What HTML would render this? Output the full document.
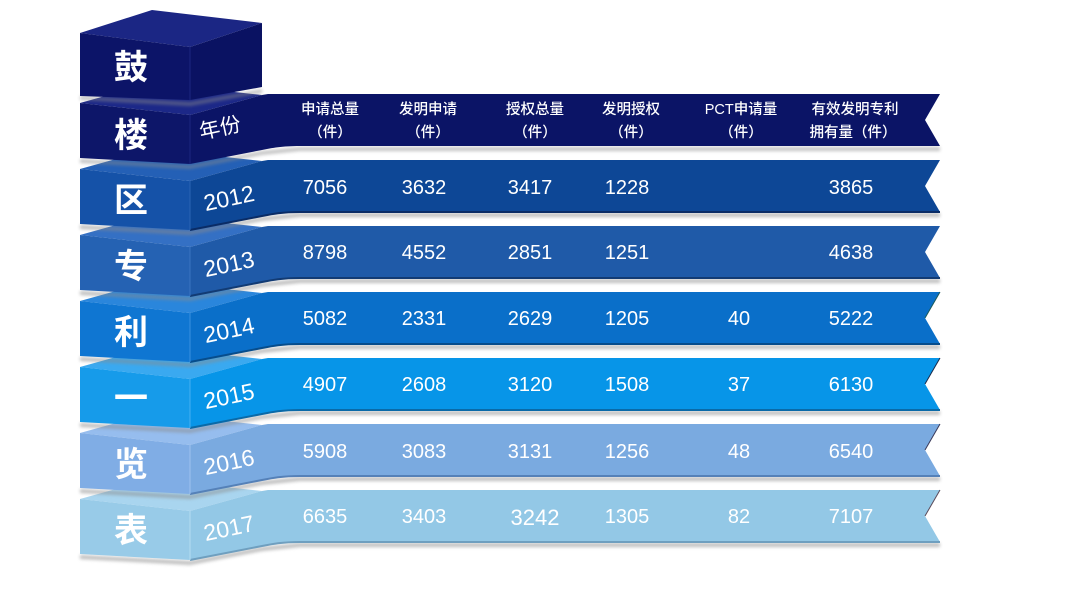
<!DOCTYPE html>
<html>
<head>
<meta charset="utf-8">
<style>
  html,body{margin:0;padding:0;background:#ffffff;}
  body{width:1080px;height:594px;overflow:hidden;}
  svg{display:block;}
  .hd{font-family:"Liberation Sans","Noto Sans CJK SC",sans-serif;font-size:14.5px;font-weight:500;fill:#ffffff;}
  .num{font-family:"Liberation Sans","Noto Sans CJK SC",sans-serif;font-size:20px;fill:#ffffff;}
  .yr{font-family:"Liberation Sans","Noto Sans CJK SC",sans-serif;font-size:23px;fill:#ffffff;}
  .big{font-family:"Liberation Sans","Noto Sans CJK SC",sans-serif;font-size:34px;font-weight:700;fill:#ffffff;}
</style>
</head>
<body>
<svg width="1080" height="594" viewBox="0 0 1080 594" xmlns="http://www.w3.org/2000/svg">
  <defs>
    <filter id="blur" x="-5%" y="-20%" width="110%" height="140%">
      <feGaussianBlur stdDeviation="1.6"/>
    </filter>
    <path id="rib" d="M190,49 L262,29 L268,28 L940,28 L925,54 L940,80 L300,80 C282,80 272,82 262,84 L190,98 Z"/>
    <polygon id="front" points="80,37 190,49 190,98 80,92"/>
    <polygon id="top" points="80,37 152,17 262,29 190,49"/>
    <polygon id="fshadow" points="80,92 190,98 262,84 300,80 940,80 940,84 300,84 262,88 190,102 80,96"/>
  </defs>

  <!-- Tier 7 : 2017 -->
  <g transform="translate(0,462)">
    <use href="#fshadow" fill="#8a8a8a" opacity="0.55" filter="url(#blur)" transform="translate(0,1)"/>
    <use href="#top" fill="#a9d5ef"/>
    <use href="#rib" fill="#93c8e6"/>
    <path d="M190,98 L262,84 C272,82 282,80 300,80 L940,80" fill="none" stroke="#6f9fbf" stroke-width="2"/>
    <use href="#front" fill="#98cbe8"/>
    <line x1="190" y1="49" x2="190" y2="98" stroke="#b5dcf1" stroke-width="1"/>
    <path d="M940,28 L925,54" stroke="#5a4a5a" stroke-width="1" fill="none"/>
    <text class="big" x="131" y="80" text-anchor="middle">表</text>
    <text class="yr" x="229" y="74" text-anchor="middle" transform="rotate(-12,229,66)">2017</text>
    <text class="num" x="325" y="61" text-anchor="middle">6635</text>
    <text class="num" x="424" y="61" text-anchor="middle">3403</text>
    <text class="num" x="535" y="63" text-anchor="middle" style="font-size:22px">3242</text>
    <text class="num" x="627" y="61" text-anchor="middle">1305</text>
    <text class="num" x="739" y="61" text-anchor="middle">82</text>
    <text class="num" x="851" y="61" text-anchor="middle">7107</text>
  </g>

  <!-- Tier 6 : 2016 -->
  <g transform="translate(0,396)">
    <use href="#fshadow" fill="#8a8a8a" opacity="0.55" filter="url(#blur)" transform="translate(0,1)"/>
    <use href="#top" fill="#96bdee"/>
    <use href="#rib" fill="#7aaae0"/>
    <path d="M190,98 L262,84 C272,82 282,80 300,80 L940,80" fill="none" stroke="#5581b8" stroke-width="2"/>
    <use href="#front" fill="#80ade5"/>
    <line x1="190" y1="49" x2="190" y2="98" stroke="#9ec1ee" stroke-width="1"/>
    <path d="M940,28 L925,54" stroke="#3a3a5a" stroke-width="1" fill="none"/>
    <text class="big" x="131" y="80" text-anchor="middle">览</text>
    <text class="yr" x="229" y="74" text-anchor="middle" transform="rotate(-12,229,66)">2016</text>
    <text class="num" x="325" y="62" text-anchor="middle">5908</text>
    <text class="num" x="424" y="62" text-anchor="middle">3083</text>
    <text class="num" x="530" y="62" text-anchor="middle">3131</text>
    <text class="num" x="627" y="62" text-anchor="middle">1256</text>
    <text class="num" x="739" y="62" text-anchor="middle">48</text>
    <text class="num" x="851" y="62" text-anchor="middle">6540</text>
  </g>

  <!-- Tier 5 : 2015 -->
  <g transform="translate(0,330)">
    <use href="#fshadow" fill="#8a8a8a" opacity="0.55" filter="url(#blur)" transform="translate(0,1)"/>
    <use href="#top" fill="#3aa9f0"/>
    <use href="#rib" fill="#0795e8"/>
    <path d="M190,98 L262,84 C272,82 282,80 300,80 L940,80" fill="none" stroke="#0a6aa8" stroke-width="2"/>
    <use href="#front" fill="#169bea"/>
    <line x1="190" y1="49" x2="190" y2="98" stroke="#45b0f2" stroke-width="1"/>
    <path d="M940,28 L925,54" stroke="#1a2a4a" stroke-width="1" fill="none"/>
    <text class="big" x="131" y="80" text-anchor="middle">一</text>
    <text class="yr" x="229" y="74" text-anchor="middle" transform="rotate(-12,229,66)">2015</text>
    <text class="num" x="325" y="61" text-anchor="middle">4907</text>
    <text class="num" x="424" y="61" text-anchor="middle">2608</text>
    <text class="num" x="530" y="61" text-anchor="middle">3120</text>
    <text class="num" x="627" y="61" text-anchor="middle">1508</text>
    <text class="num" x="739" y="61" text-anchor="middle">37</text>
    <text class="num" x="851" y="61" text-anchor="middle">6130</text>
  </g>

  <!-- Tier 4 : 2014 -->
  <g transform="translate(0,264)">
    <use href="#fshadow" fill="#8a8a8a" opacity="0.55" filter="url(#blur)" transform="translate(0,1)"/>
    <use href="#top" fill="#2a86dc"/>
    <use href="#rib" fill="#0a6fc9"/>
    <path d="M190,98 L262,84 C272,82 282,80 300,80 L940,80" fill="none" stroke="#074d8c" stroke-width="2"/>
    <use href="#front" fill="#0f76d2"/>
    <line x1="190" y1="49" x2="190" y2="98" stroke="#3a90e0" stroke-width="1"/>
    <path d="M940,28 L925,54" stroke="#1a5a5a" stroke-width="1" fill="none"/>
    <text class="big" x="131" y="80" text-anchor="middle">利</text>
    <text class="yr" x="229" y="74" text-anchor="middle" transform="rotate(-12,229,66)">2014</text>
    <text class="num" x="325" y="61" text-anchor="middle">5082</text>
    <text class="num" x="424" y="61" text-anchor="middle">2331</text>
    <text class="num" x="530" y="61" text-anchor="middle">2629</text>
    <text class="num" x="627" y="61" text-anchor="middle">1205</text>
    <text class="num" x="739" y="61" text-anchor="middle">40</text>
    <text class="num" x="851" y="61" text-anchor="middle">5222</text>
  </g>

  <!-- Tier 3 : 2013 -->
  <g transform="translate(0,198)">
    <use href="#fshadow" fill="#8a8a8a" opacity="0.55" filter="url(#blur)" transform="translate(0,1)"/>
    <use href="#top" fill="#3470c4"/>
    <use href="#rib" fill="#1f5aa8"/>
    <path d="M190,98 L262,84 C272,82 282,80 300,80 L940,80" fill="none" stroke="#123b74" stroke-width="2"/>
    <use href="#front" fill="#2562b3"/>
    <line x1="190" y1="49" x2="190" y2="98" stroke="#3a74c0" stroke-width="1"/>
    <text class="big" x="131" y="80" text-anchor="middle">专</text>
    <text class="yr" x="229" y="74" text-anchor="middle" transform="rotate(-12,229,66)">2013</text>
    <text class="num" x="325" y="61" text-anchor="middle">8798</text>
    <text class="num" x="424" y="61" text-anchor="middle">4552</text>
    <text class="num" x="530" y="61" text-anchor="middle">2851</text>
    <text class="num" x="627" y="61" text-anchor="middle">1251</text>
    <text class="num" x="851" y="61" text-anchor="middle">4638</text>
  </g>

  <!-- Tier 2 : 2012 -->
  <g transform="translate(0,132)">
    <use href="#fshadow" fill="#8a8a8a" opacity="0.55" filter="url(#blur)" transform="translate(0,1)"/>
    <use href="#top" fill="#2460b6"/>
    <use href="#rib" fill="#0d4796"/>
    <path d="M190,98 L262,84 C272,82 282,80 300,80 L940,80" fill="none" stroke="#0a2c66" stroke-width="2"/>
    <use href="#front" fill="#1552a8"/>
    <line x1="190" y1="49" x2="190" y2="98" stroke="#2a64b4" stroke-width="1"/>
    <text class="big" x="131" y="80" text-anchor="middle">区</text>
    <text class="yr" x="229" y="74" text-anchor="middle" transform="rotate(-12,229,66)">2012</text>
    <text class="num" x="325" y="62" text-anchor="middle">7056</text>
    <text class="num" x="424" y="62" text-anchor="middle">3632</text>
    <text class="num" x="530" y="62" text-anchor="middle">3417</text>
    <text class="num" x="627" y="62" text-anchor="middle">1228</text>
    <text class="num" x="851" y="62" text-anchor="middle">3865</text>
  </g>

  <!-- Tier 1 : header -->
  <g transform="translate(0,66)">
    <use href="#fshadow" fill="#8a8a8a" opacity="0.5" filter="url(#blur)" transform="translate(0,1)"/>
    <use href="#top" fill="#1c2888"/>
    <use href="#rib" fill="#0b1466"/>
    <use href="#front" fill="#0d1669"/>
    <line x1="190" y1="49" x2="190" y2="98" stroke="#1c2680" stroke-width="1"/>
    <text class="big" x="131" y="81" text-anchor="middle">楼</text>
    <text class="yr" x="220" y="69" text-anchor="middle" style="font-size:21px" transform="rotate(-12,220,62)">年份</text>
    <text class="hd" x="330" y="48" text-anchor="middle">申请总量</text>
    <text class="hd" x="330" y="71" text-anchor="middle">（件）</text>
    <text class="hd" x="428" y="48" text-anchor="middle">发明申请</text>
    <text class="hd" x="428" y="71" text-anchor="middle">（件）</text>
    <text class="hd" x="535" y="48" text-anchor="middle">授权总量</text>
    <text class="hd" x="535" y="71" text-anchor="middle">（件）</text>
    <text class="hd" x="631" y="48" text-anchor="middle">发明授权</text>
    <text class="hd" x="631" y="71" text-anchor="middle">（件）</text>
    <text class="hd" x="741" y="48" text-anchor="middle">PCT申请量</text>
    <text class="hd" x="741" y="71" text-anchor="middle">（件）</text>
    <text class="hd" x="855" y="48" text-anchor="middle">有效发明专利</text>
    <text class="hd" x="853" y="71" text-anchor="middle">拥有量（件）</text>
  </g>

  <!-- Tier 0 : top block -->
  <g>
    <polygon points="80,96 190,102 262,89 262,93 190,106 80,100" fill="#8a8a8a" opacity="0.5" filter="url(#blur)"/>
    <polygon points="80,33 152,10 262,23 190,47" fill="#1b2684"/>
    <polygon points="190,47 262,23 262,87 190,100" fill="#0a1262"/>
    <polygon points="80,33 190,47 190,100 80,96" fill="#0c1468"/>
    <line x1="190" y1="47" x2="190" y2="100" stroke="#1c2680" stroke-width="1"/>
    <text class="big" x="131" y="79" text-anchor="middle">鼓</text>
  </g>
</svg>
</body>
</html>
